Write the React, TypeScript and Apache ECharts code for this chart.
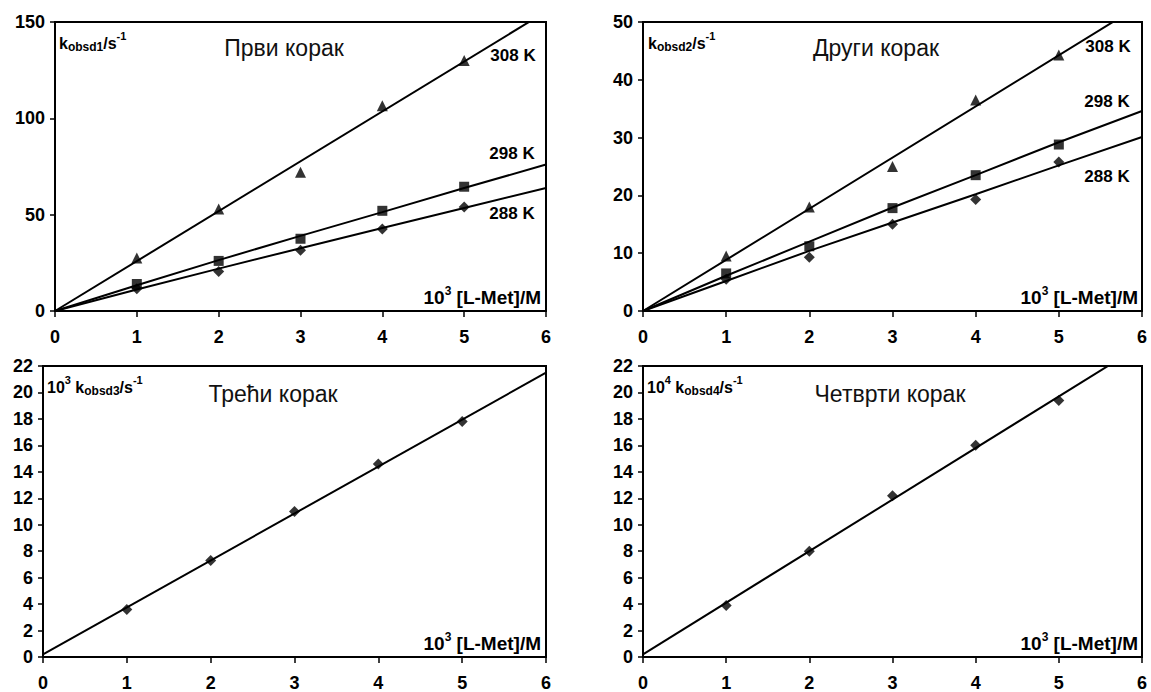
import React, { useEffect, useRef } from "react";
import * as echarts from "echarts";

// Concentration of L-Met (10^3 M) at which rate constants were measured
const conc = [1, 2, 3, 4, 5];
// Abscissa points used to draw the fitted curves
const fitConc = [0, 1, 2, 3, 4, 5, 6];
const lineEnds = [0, 6];

// Step 1 (k_obsd1 / s^-1)
const step1_308 = [27.5, 53, 72, 106.5, 130];
const step1_298 = [14, 26, 37.5, 52, 64.5];
const step1_288 = [11.5, 20.5, 31.5, 42.5, 54];
const step1Fit_308 = [0, 155.4];
const step1Fit_298 = [0, 13.4, 26.4, 39, 51.3, 63.8, 76];
const step1Fit_288 = [0, 11.2, 22, 32.6, 43.1, 53.5, 63.8];

// Step 2 (k_obsd2 / s^-1)
const step2_308 = [9.5, 18, 25, 36.5, 44.3];
const step2_298 = [6.5, 11.2, 17.8, 23.5, 28.8];
const step2_288 = [5.5, 9.3, 15, 19.3, 25.8];
const step2Fit_308 = [0, 53.1];
const step2Fit_298 = [0, 6.1, 12, 17.9, 23.5, 29.2, 34.6];
const step2Fit_288 = [0, 5.2, 10.4, 15.3, 20.2, 25.2, 30.1];

// Step 3 (10^3 k_obsd3 / s^-1)
const step3 = [3.6, 7.3, 11.0, 14.6, 17.8];
const step3Fit = [0.2, 21.5];

// Step 4 (10^4 k_obsd4 / s^-1)
const step4 = [3.9, 8.0, 12.2, 16.0, 19.4];
const step4Fit = [0.2, 23.6];

const xTicks = [0, 1, 2, 3, 4, 5, 6];
const titles = ["Први корак", "Други корак", "Трећи корак", "Четврти корак"];
const tempLabels = ["308 K", "298 K", "288 K"];

const FONT = "'Liberation Sans', Arial, sans-serif";

const grids = [
  { left: 55, top: 22, width: 491, height: 289 },
  { left: 643, top: 22, width: 499, height: 289 },
  { left: 43, top: 366, width: 503, height: 292 },
  { left: 643, top: 366, width: 499, height: 292 },
];

const yRanges = [
  { max: 150, interval: 50 },
  { max: 50, interval: 10 },
  { max: 22, interval: 2 },
  { max: 22, interval: 2 },
];

const pairs = (xs: number[], ys: number[]) => xs.map((x, i) => [x, ys[i]]);

export default function App() {
  const ref = useRef<HTMLDivElement>(null);

  useEffect(() => {
    document.body.style.margin = "0";
    if (!ref.current) return;
    const chart = echarts.init(ref.current, null, { renderer: "svg" });

    const axisLabel = { color: "#000", fontFamily: FONT, fontWeight: "bold", fontSize: 18 };

    const xAxis = grids.map((_, i) => ({
      type: "value",
      gridIndex: i,
      min: 0,
      max: 6,
      interval: 1,
      splitLine: { show: false },
      axisLine: { show: true, onZero: false, lineStyle: { color: "#000", width: 2 } },
      axisTick: { show: true, length: 6, lineStyle: { color: "#000", width: 1.5 } },
      axisLabel: { ...axisLabel, margin: 17, formatter: (v: number) => (xTicks.includes(v) ? String(v) : "") },
    }));

    const yAxis = grids.map((_, i) => ({
      type: "value",
      gridIndex: i,
      min: 0,
      max: yRanges[i].max,
      interval: yRanges[i].interval,
      splitLine: { show: false },
      axisLine: { show: true, lineStyle: { color: "#000", width: 2 } },
      axisTick: { show: true, length: 5, lineStyle: { color: "#000", width: 1.5 } },
      axisLabel: { ...axisLabel, margin: 10 },
    }));

    const fitLine = (idx: number, xs: number[], ys: number[]) => ({
      type: "line",
      xAxisIndex: idx,
      yAxisIndex: idx,
      data: pairs(xs, ys),
      showSymbol: false,
      symbol: "none",
      clip: true,
      lineStyle: { color: "#000", width: 2 },
      silent: true,
      z: 2,
    });

    const points = (idx: number, ys: number[], symbol: string, size: number) => ({
      type: "scatter",
      xAxisIndex: idx,
      yAxisIndex: idx,
      data: pairs(conc, ys),
      symbol,
      symbolSize: size,
      itemStyle: { color: "#000" },
      z: 3,
    });

    const series = [
      fitLine(0, lineEnds, step1Fit_308),
      fitLine(0, fitConc, step1Fit_298),
      fitLine(0, fitConc, step1Fit_288),
      points(0, step1_308, "triangle", 11),
      points(0, step1_298, "rect", 10),
      points(0, step1_288, "diamond", 11),
      fitLine(1, lineEnds, step2Fit_308),
      fitLine(1, fitConc, step2Fit_298),
      fitLine(1, fitConc, step2Fit_288),
      points(1, step2_308, "triangle", 11),
      points(1, step2_298, "rect", 10),
      points(1, step2_288, "diamond", 11),
      fitLine(2, lineEnds, step3Fit),
      points(2, step3, "diamond", 11),
      fitLine(3, lineEnds, step4Fit),
      points(3, step4, "diamond", 11),
    ];

    const rich = {
      b: { fontFamily: FONT, fontWeight: "bold", fontSize: 16, color: "#000", lineHeight: 22, verticalAlign: "bottom" },
      sub: { fontFamily: FONT, fontWeight: "bold", fontSize: 12, color: "#000", lineHeight: 22, verticalAlign: "bottom", padding: [0, 0, -2, 0] },
      sup: { fontFamily: FONT, fontWeight: "bold", fontSize: 11, color: "#000", lineHeight: 22, verticalAlign: "top", padding: [1, 0, 0, 0] },
    };

    const richText = (left: number, top: number, text: string) => ({
      type: "text",
      left,
      top,
      style: { text, rich, fill: "#000" },
      z: 10,
    });

    const title = (cx: number, cy: number, text: string) => ({
      type: "text",
      x: cx,
      y: cy,
      style: {
        text,
        fontFamily: FONT,
        fontSize: 23,
        fill: "#111",
        align: "center",
        verticalAlign: "middle",
      },
      z: 10,
    });

    const temp = (cx: number, cy: number, text: string) => ({
      type: "text",
      x: cx,
      y: cy,
      style: {
        text,
        fontFamily: FONT,
        fontWeight: "bold",
        fontSize: 17,
        fill: "#000",
        align: "center",
        verticalAlign: "middle",
      },
      z: 10,
    });

    const xName = (right: number, cy: number) => ({
      type: "text",
      x: right,
      y: cy,
      style: {
        text: "{b|10}{sup|3}{b| [L-Met]/M}",
        rich: {
          b: { fontFamily: FONT, fontWeight: "bold", fontSize: 19, color: "#000", lineHeight: 22, verticalAlign: "bottom" },
          sup: { fontFamily: FONT, fontWeight: "bold", fontSize: 12, color: "#000", lineHeight: 22, verticalAlign: "top", padding: [0, 0, 0, 0] },
        },
        align: "right",
        verticalAlign: "middle",
      },
      z: 10,
    });

    const graphic = [
      title(284, 48, titles[0]),
      title(876, 48, titles[1]),
      title(273, 394, titles[2]),
      title(890, 394, titles[3]),
      temp(513, 55, tempLabels[0]),
      temp(512, 153, tempLabels[1]),
      temp(512, 213, tempLabels[2]),
      temp(1108, 46, tempLabels[0]),
      temp(1107, 101, tempLabels[1]),
      temp(1107, 176, tempLabels[2]),
      richText(59, 29, "{b|k}{sub|obsd1}{b|/s}{sup|-1}"),
      richText(648, 29, "{b|k}{sub|obsd2}{b|/s}{sup|-1}"),
      richText(47, 373, "{b|10}{sup|3}{b| k}{sub|obsd3}{b|/s}{sup|-1}"),
      richText(647, 373, "{b|10}{sup|4}{b| k}{sub|obsd4}{b|/s}{sup|-1}"),
      xName(541, 296),
      xName(1138, 296),
      xName(541, 642),
      xName(1138, 642),
    ];

    chart.setOption({
      animation: false,
      backgroundColor: "#fff",
      grid: grids.map((g) => ({ ...g, show: true, borderColor: "#000", borderWidth: 2, backgroundColor: "transparent" })),
      xAxis,
      yAxis,
      series,
      graphic,
    });

    return () => chart.dispose();
  }, []);

  return <div ref={ref} style={{ width: 1151, height: 692 }} />;
}
